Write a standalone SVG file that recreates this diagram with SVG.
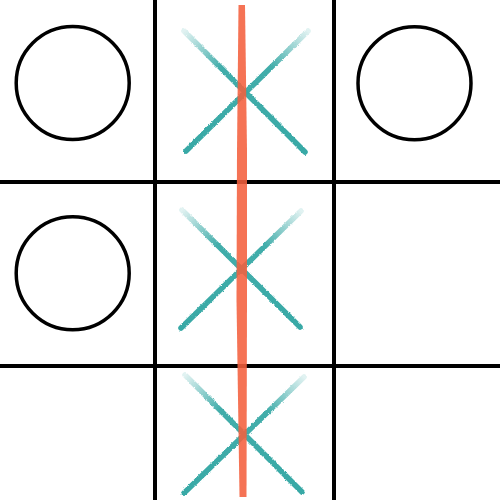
<svg xmlns="http://www.w3.org/2000/svg" width="500" height="500" viewBox="0 0 500 500">
  <defs>
    <style>
      .grid { stroke: #000; stroke-width: 4; }
      .o { fill: none; stroke: #000; stroke-width: 3.5; }
      .xs { fill: none; stroke-width: 5.5; stroke-linecap: round; filter: url(#rough); }
    </style>
    <filter id="rough" x="-10%" y="-10%" width="120%" height="120%">
      <feTurbulence type="fractalNoise" baseFrequency="0.9" numOctaves="2" seed="3" result="n"/>
      <feDisplacementMap in="SourceGraphic" in2="n" scale="2.5" xChannelSelector="R" yChannelSelector="G"/>
    </filter>
    <linearGradient id="fadeDown" x1="0" y1="0" x2="1" y2="1">
      <stop offset="0" stop-color="#38a9a6" stop-opacity="0.15"/>
      <stop offset="0.3" stop-color="#38a9a6" stop-opacity="0.95"/>
      <stop offset="1" stop-color="#38a9a6" stop-opacity="1"/>
    </linearGradient>
    <linearGradient id="fadeUp" x1="1" y1="0" x2="0" y2="1">
      <stop offset="0" stop-color="#38a9a6" stop-opacity="0.15"/>
      <stop offset="0.3" stop-color="#38a9a6" stop-opacity="0.95"/>
      <stop offset="1" stop-color="#38a9a6" stop-opacity="1"/>
    </linearGradient>
  </defs>
  <rect width="500" height="500" fill="#fff"/>
  <g id="grid">
    <line class="grid" x1="155" y1="0" x2="155" y2="500"/>
    <line class="grid" x1="334" y1="0" x2="334" y2="500"/>
    <line class="grid" x1="0" y1="182" x2="500" y2="182"/>
    <line class="grid" x1="0" y1="366" x2="500" y2="366"/>
  </g>
  <g id="o-top-left"><circle class="o" cx="72.7" cy="83" r="56.5"/></g>
  <g id="o-top-right"><circle class="o" cx="414.5" cy="83.3" r="56.5"/></g>
  <g id="o-mid-left"><circle class="o" cx="72.7" cy="273.3" r="56.5"/></g>
  <g id="x-top">
    <line class="xs" x1="184" y1="31" x2="305" y2="152" stroke="url(#fadeDown)"/>
    <line class="xs" x1="308" y1="31" x2="186" y2="151" stroke="url(#fadeUp)"/>
  </g>
  <g id="x-mid">
    <line class="xs" x1="182" y1="210" x2="300" y2="327" stroke="url(#fadeDown)"/>
    <line class="xs" x1="301" y1="211" x2="181" y2="328" stroke="url(#fadeUp)"/>
  </g>
  <g id="x-bottom">
    <line class="xs" x1="185" y1="375" x2="302" y2="492" stroke="url(#fadeDown)"/>
    <line class="xs" x1="304" y1="377" x2="184" y2="493" stroke="url(#fadeUp)"/>
  </g>
  <g id="win-line">
    <path d="M238.5 5 L245 5 L247 150 L247 300 L246.5 497 L239.5 497 L236.5 300 L237 150 Z" fill="#f4603e" fill-opacity="0.88"/>
  </g>
</svg>
